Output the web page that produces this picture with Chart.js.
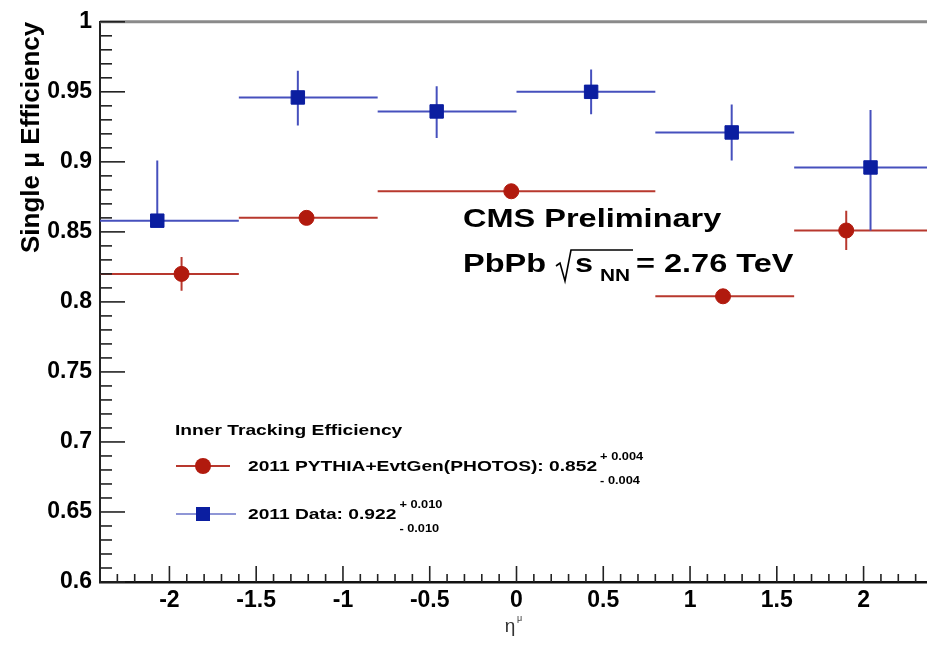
<!DOCTYPE html>
<html><head><meta charset="utf-8">
<script src="https://cdn.jsdelivr.net/npm/chart.js@4"></script>
<style>
html,body{margin:0;padding:0;background:#fff;overflow:hidden;}
#wrap{width:945px;height:645px;position:relative;}
</style></head><body>
<div id="wrap"><canvas id="c"></canvas></div>
<script>
// ---- tick labels ----
const xTickValues = [-2, -1.5, -1, -0.5, 0, 0.5, 1, 1.5, 2];
const yTickValues = [0.6, 0.65, 0.7, 0.75, 0.8, 0.85, 0.9, 0.95, 1];

// ---- 2011 Data (blue squares) ----
const dataEta   = [-2.07, -1.26, -0.46, 0.43, 1.24, 2.04];
const dataEff   = [0.858, 0.946, 0.936, 0.950, 0.921, 0.896];
const dataBinLo = [-2.4, -1.6, -0.8, 0.0, 0.8, 1.6];
const dataBinHi = [-1.6, -0.8, 0.0, 0.8, 1.6, 2.4];
const dataErrUp = [0.043, 0.019, 0.018, 0.016, 0.020, 0.041];
const dataErrDn = [0.000, 0.020, 0.019, 0.016, 0.020, 0.045];

// ---- 2011 PYTHIA+EvtGen(PHOTOS) (red circles) ----
const mcEta   = [-1.93, -1.21, -0.03, 1.19, 1.90];
const mcEff   = [0.820, 0.860, 0.879, 0.804, 0.851];
const mcBinLo = [-2.4, -1.6, -0.8, 0.8, 1.6];
const mcBinHi = [-1.6, -0.8, 0.8, 1.6, 2.4];
const mcErrUp = [0.012, 0.003, 0.003, 0.003, 0.014];
const mcErrDn = [0.012, 0.003, 0.003, 0.003, 0.014];

const FONT = "'Liberation Sans', Arial, Helvetica, sans-serif";
const BLUE = '#0b1ea0', BLUE_BAR = '#4650bd';
const RED = '#b11a0e', RED_BAR = '#b8382e';

function toPoints(xs, ys){ return xs.map((v,i)=>({x:v, y:ys[i]})); }

function fmt(v){ return String(+(+v).toFixed(2)); }

function sText(ctx, txt, x, y, font, sx, color){
  ctx.save();
  ctx.font = font; ctx.fillStyle = color || '#000';
  ctx.textAlign = 'left'; ctx.textBaseline = 'alphabetic';
  const w = ctx.measureText(txt).width;
  ctx.translate(x, y); ctx.scale(sx, 1); ctx.fillText(txt, 0, 0);
  ctx.restore();
  return x + w * sx;
}

const errBars = {
  id: 'errBars',
  beforeDatasetsDraw(chart){
    const {ctx, chartArea:a, scales:{x, y}} = chart;
    ctx.save();
    ctx.beginPath(); ctx.rect(a.left, a.top, a.right - a.left, a.bottom - a.top); ctx.clip();
    chart.data.datasets.forEach(ds => {
      const e = ds.errInfo;
      ctx.strokeStyle = ds.barColor; ctx.lineWidth = 2;
      ds.data.forEach((p, i) => {
        const px = x.getPixelForValue(p.x), py = y.getPixelForValue(p.y);
        ctx.beginPath();
        ctx.moveTo(x.getPixelForValue(e.lo[i]), py);
        ctx.lineTo(x.getPixelForValue(e.hi[i]), py);
        if (e.up[i] > 0 || e.dn[i] > 0) {
          ctx.moveTo(px, y.getPixelForValue(p.y + e.up[i]));
          ctx.lineTo(px, y.getPixelForValue(p.y - e.dn[i]));
        }
        ctx.stroke();
      });
    });
    ctx.restore();
  }
};

const frame = {
  id: 'frame',
  afterDatasetsDraw(chart){
    const {ctx, chartArea:a, scales:{x, y}} = chart;
    ctx.save();
    // top frame line
    ctx.strokeStyle = '#8a8a8a'; ctx.lineWidth = 3;
    ctx.beginPath(); ctx.moveTo(a.left, a.top); ctx.lineTo(chart.width, a.top); ctx.stroke();
    // inner ticks on y axis
    ctx.strokeStyle = '#222'; ctx.lineWidth = 1.6;
    for (let k = 60; k <= 100; k++) {
      const v = k / 100, py = y.getPixelForValue(v);
      const len = (k % 5 === 0) ? 25 : 12;
      ctx.beginPath(); ctx.moveTo(a.left, py); ctx.lineTo(a.left + len, py); ctx.stroke();
    }
    // inner ticks on x axis
    for (let k = -24; k <= 24; k++) {
      const v = k / 10, px = x.getPixelForValue(v);
      const len = (k % 5 === 0) ? 16 : 8;
      ctx.beginPath(); ctx.moveTo(px, a.bottom); ctx.lineTo(px, a.bottom - len); ctx.stroke();
    }
    ctx.restore();
  }
};

const notes = {
  id: 'notes',
  afterDraw(chart){
    const ctx = chart.ctx;
    const sx = 1.28;
    // CMS label
    sText(ctx, 'CMS Preliminary', 463, 227, 'bold 25px ' + FONT, 1.3);
    sText(ctx, 'PbPb', 463, 272, 'bold 25px ' + FONT, 1.3);
    // radical sign over s_NN
    ctx.save();
    ctx.strokeStyle = '#000'; ctx.lineWidth = 1.6; ctx.lineJoin = 'miter';
    ctx.beginPath();
    ctx.moveTo(556, 266); ctx.lineTo(560, 263); ctx.lineTo(565, 281);
    ctx.lineTo(571, 250); ctx.lineTo(633, 250);
    ctx.stroke();
    ctx.restore();
    sText(ctx, 's', 575, 272, 'bold 25px ' + FONT, 1.3);
    sText(ctx, 'NN', 600, 281, 'bold 16px ' + FONT, 1.3);
    sText(ctx, '= 2.76 TeV', 636, 272, 'bold 25px ' + FONT, 1.3);

    // legend
    sText(ctx, 'Inner Tracking Efficiency', 175, 435, 'bold 15px ' + FONT, sx);
    ctx.save();
    ctx.lineWidth = 2;
    ctx.strokeStyle = RED_BAR;
    ctx.beginPath(); ctx.moveTo(176, 466); ctx.lineTo(230, 466); ctx.stroke();
    ctx.fillStyle = RED; ctx.beginPath(); ctx.arc(203, 466, 8, 0, Math.PI * 2); ctx.fill();
    ctx.strokeStyle = '#8f96d6';
    ctx.beginPath(); ctx.moveTo(176, 514); ctx.lineTo(236, 514); ctx.stroke();
    ctx.fillStyle = BLUE; ctx.fillRect(196, 507, 14, 14);
    ctx.restore();
    let e1 = sText(ctx, '2011 PYTHIA+EvtGen(PHOTOS): 0.852', 248, 471, 'bold 15px ' + FONT, sx);
    sText(ctx, '+ 0.004', e1 + 3, 460, 'bold 10px ' + FONT, sx);
    sText(ctx, '- 0.004', e1 + 3, 484, 'bold 10px ' + FONT, sx);
    let e2 = sText(ctx, '2011 Data: 0.922', 248, 519, 'bold 15px ' + FONT, sx);
    sText(ctx, '+ 0.010', e2 + 3, 508, 'bold 10px ' + FONT, sx);
    sText(ctx, '- 0.010', e2 + 3, 532, 'bold 10px ' + FONT, sx);

    // x axis title eta^mu
    ctx.save();
    ctx.fillStyle = '#333';
    ctx.font = '19px ' + FONT; ctx.textAlign = 'center';
    ctx.fillText('\u03B7', 510, 632);
    ctx.font = '9px ' + FONT; ctx.textAlign = 'left';
    ctx.fillText('\u03BC', 517, 621);
    ctx.restore();
  }
};

new Chart(document.getElementById('c'), {
  type: 'scatter',
  data: {
    datasets: [
      {
        label: '2011 PYTHIA+EvtGen(PHOTOS)',
        data: toPoints(mcEta, mcEff),
        pointStyle: 'circle', pointRadius: 7.5, pointHoverRadius: 7.5,
        pointBackgroundColor: RED, pointBorderColor: RED, pointBorderWidth: 1,
        showLine: false, barColor: RED_BAR,
        errInfo: {lo: mcBinLo, hi: mcBinHi, up: mcErrUp, dn: mcErrDn}
      },
      {
        label: '2011 Data',
        data: toPoints(dataEta, dataEff),
        pointStyle: 'rect', pointRadius: 9.5, pointHoverRadius: 9.5,
        pointBackgroundColor: BLUE, pointBorderColor: BLUE, pointBorderWidth: 1,
        showLine: false, barColor: BLUE_BAR,
        errInfo: {lo: dataBinLo, hi: dataBinHi, up: dataErrUp, dn: dataErrDn}
      }
    ]
  },
  options: {
    responsive: true, maintainAspectRatio: false, animation: false,
    events: [],
    layout: {padding: {top: 18, right: 12, left: 0, bottom: 0}},
    plugins: {legend: {display: false}, tooltip: {enabled: false}},
    scales: {
      x: {
        type: 'linear', position: 'bottom', min: -2.4, max: 2.4,
        afterBuildTicks: s => { s.ticks = xTickValues.map(v => ({value: v})); },
        afterFit: s => { s.height = 63; },
        grid: {display: false, drawTicks: false},
        border: {display: true, color: '#111', width: 2.5},
        ticks: {color: '#000', padding: 5, maxRotation: 0, autoSkip: false,
                font: {family: FONT, size: 23, weight: 'bold'}, callback: v => fmt(v)}
      },
      y: {
        type: 'linear', position: 'left', min: 0.6, max: 1,
        afterBuildTicks: s => { s.ticks = yTickValues.map(v => ({value: v})); },
        afterFit: s => { s.width = 100; },
        grid: {display: false, drawTicks: false},
        border: {display: true, color: '#222', width: 2},
        ticks: {color: '#000', padding: 8, autoSkip: false,
                font: {family: FONT, size: 23, weight: 'bold'}, callback: v => fmt(v)},
        title: {display: true, text: 'Single \u03BC Efficiency', align: 'end', color: '#000',
                padding: {top: 16, bottom: 0}, font: {family: FONT, size: 26, weight: 'bold'}}
      }
    }
  },
  plugins: [errBars, frame, notes]
});
</script>
</body></html>
